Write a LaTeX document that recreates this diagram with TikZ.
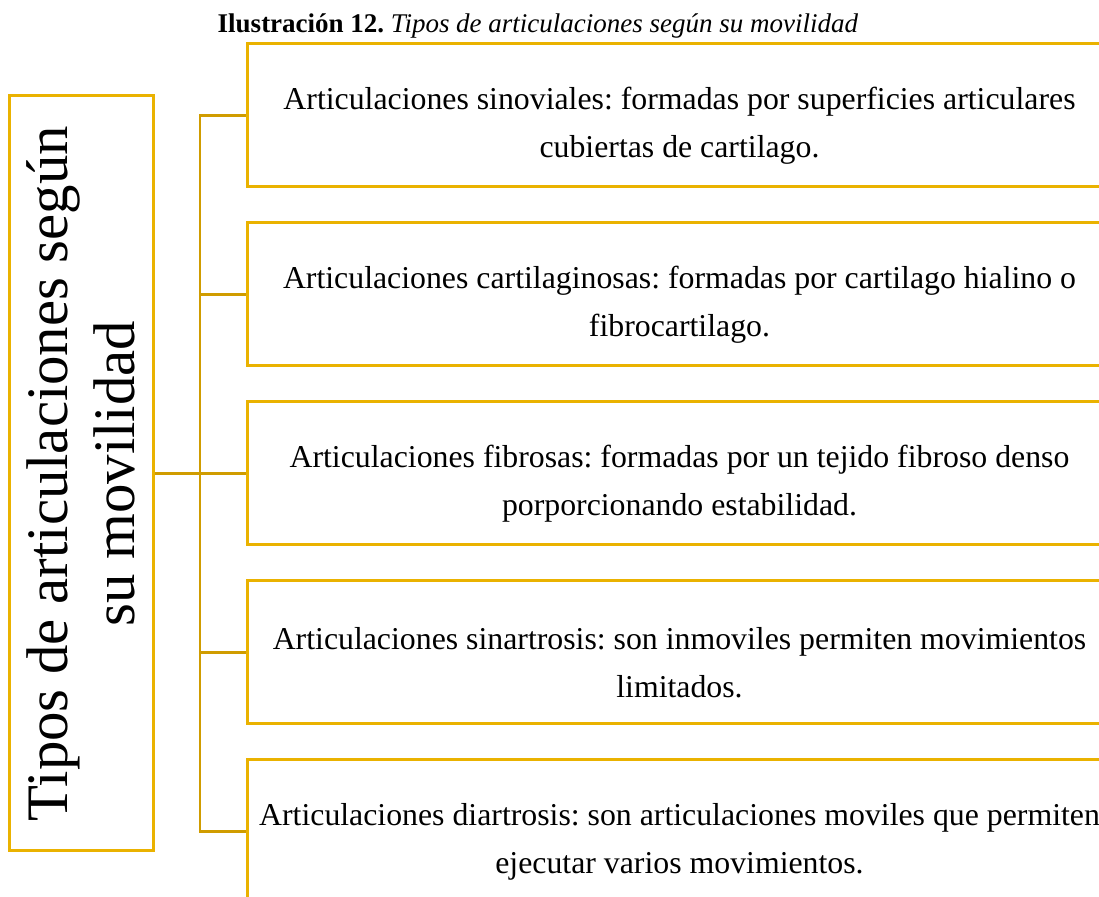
\documentclass[tikz,border=0pt]{standalone}
\usepackage{fontspec}
\setmainfont{Liberation Serif}
\frenchspacing
\definecolor{boxgold}{RGB}{234,178,0}
\definecolor{linkgold}{RGB}{208,156,0}
\tikzset{
  root/.style={draw=boxgold, line width=1.5pt, minimum width=377.5pt, minimum height=72pt,
    inner sep=0pt, align=center, font=\fontsize{29.4}{33.5}\selectfont},
  leaf/.style={draw=boxgold, line width=1.5pt, minimum width=432.5pt, minimum height=71.5pt, inner sep=0pt},
  leaftext/.style={align=center, font=\fontsize{15.9}{24}\selectfont},
  link/.style={draw=linkgold, line width=1.3pt}
}
\begin{document}
\begin{tikzpicture}[x=0.5pt, y=-0.5pt]
      \useasboundingbox (0,0) rectangle (1099,897);
      \clip (0,0) rectangle (1099,897);
      \node[anchor=base, font=\fontsize{13.5}{16}\selectfont] (title) at (538,33)
        {\textbf{Ilustración 12.} \textit{Tipos de articulaciones según su movilidad}};
      \node[root, rotate=90] (root) at (81,473.5) {Tipos de articulaciones según\\su movilidad};
      \coordinate (trunk) at (200,473.5);
      % boxes on the right
      \node[leaf] (b1) at (679.5,115.5) {};
      \node[leaf] (b2) at (679.5,294.5) {};
      \node[leaf] (b3) at (679.5,473.5) {};
      \node[leaf] (b4) at (679.5,652.5) {};
      \node[leaf] (b5) at (679.5,831.5) {};
      \node[leaftext] (t1) at ([yshift=-5pt]b1.center) {Articulaciones sinoviales: formadas por superficies articulares\\cubiertas de cartilago.};
      \node[leaftext] (t2) at ([yshift=-5pt]b2.center) {Articulaciones cartilaginosas: formadas por cartilago hialino o\\fibrocartilago.};
      \node[leaftext] (t3) at ([yshift=-5pt]b3.center) {Articulaciones fibrosas: formadas por un tejido fibroso denso\\porporcionando estabilidad.};
      \node[leaftext] (t4) at ([yshift=-5pt]b4.center) {Articulaciones sinartrosis: son inmoviles permiten movimientos\\limitados.};
      \node[leaftext] (t5) at ([yshift=-5pt]b5.center) {Articulaciones diartrosis: son articulaciones moviles que permiten\\ejecutar varios movimientos.};
      % connectors
      \draw[link] (root.south) -- (trunk);
      \foreach \i in {1,...,5}
        \draw[link] (trunk) |- (b\i.west);
\end{tikzpicture}
\end{document}
